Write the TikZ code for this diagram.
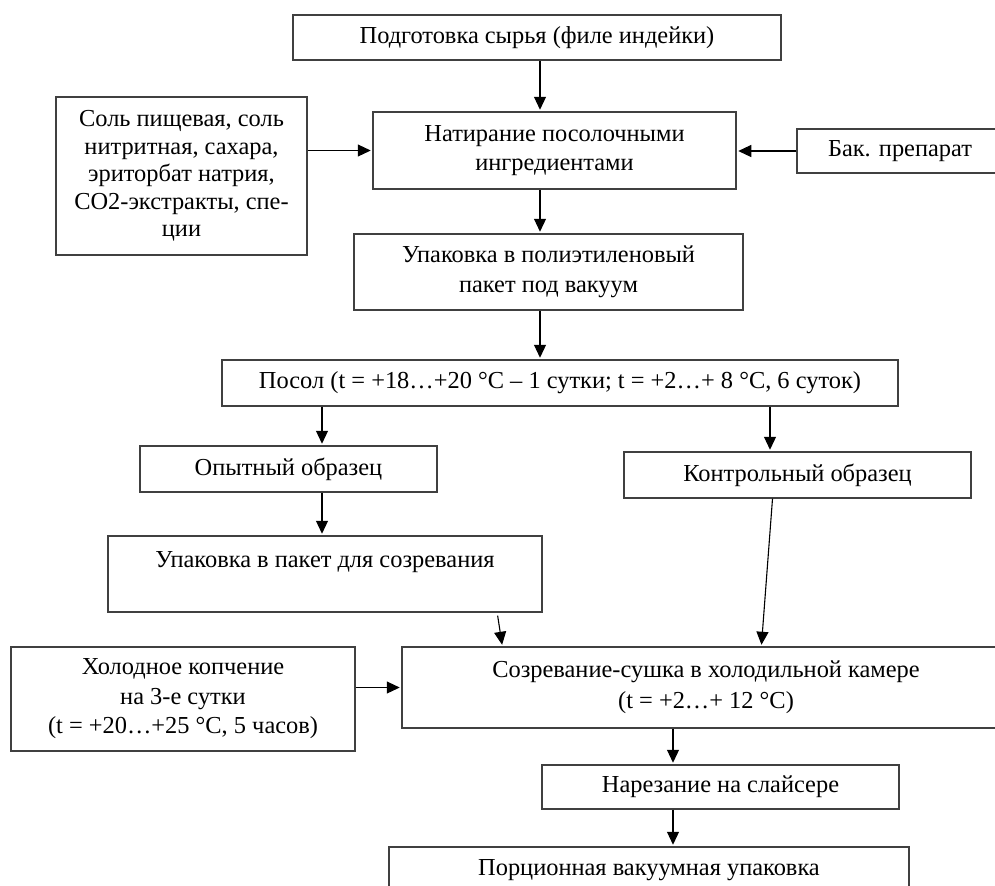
\documentclass[tikz,border=0pt]{standalone}
\usepackage{fontspec}
\setmainfont{Liberation Serif}
\usetikzlibrary{calc,arrows.meta}

\tikzset{
    box/.style={draw=black!75, line width=0.65pt, align=center, inner sep=2pt,
        font=\fontsize{12.2}{14.75}\selectfont},
    arr/.style={draw=black, line width=0.55pt, shorten >=0.8pt,
        -{Triangle[length=6.5pt,width=6pt]}}
}

\begin{document}
\begin{tikzpicture}[x=0.5pt, y=-0.5pt]
    \path[use as bounding box, clip] (0,0) rectangle (995,885); % page frame

    % upper column
    \node[box, minimum width=244pt, minimum height=22.5pt] (prep) at (537,37.5) {Подготовка сырья (филе индейки)};
    \node[box, minimum width=125.5pt, minimum height=79pt, font=\fontsize{12.2}{13.8}\selectfont] (salt) at (181.5,176)
        {Соль пищевая, соль\\нитритная, сахара,\\эриторбат натрия,\\СО2-экстракты, спе-\\ции};
    \node[box, minimum width=181.5pt, minimum height=38.5pt] (rub) at (554.5,150.5) {Натирание посолочными\\ингредиентами};
    \node[box, minimum width=103pt, minimum height=22pt] (bact) at (900,151) {Бак. препарат};
    \node[box, minimum width=194.5pt, minimum height=38pt] (pack) at (548.5,272) {Упаковка в полиэтиленовый\\пакет под вакуум};
    \node[box, minimum width=338pt, minimum height=23pt] (salting) at (560,383)
        {Посол (t = +18…+20 °C – 1 сутки; t = +2…+ 8 °C, 6 суток)};

    % two samples
    \node[box, minimum width=148.5pt, minimum height=23pt] (test) at (288.5,469) {Опытный образец};
    \node[box, minimum width=173.5pt, minimum height=23pt] (ctrl) at (797.5,475) {Контрольный образец};
    \node[box, minimum width=217pt, minimum height=38pt] (bag) at (325,574) {Упаковка в пакет для созревания\\\mbox{}};

    % lower column
    \node[box, minimum width=172pt, minimum height=52pt] (smoke) at (183,699)
        {Холодное копчение\\на 3-е сутки\\(t = +20…+25 °C, 5 часов)};
    \node[box, minimum width=304pt, minimum height=40.5pt, font=\fontsize{12.2}{15.5}\selectfont] (ripen) at (706,687.5)
        {Созревание-сушка в холодильной камере\\(t = +2…+ 12 °C)};
    \node[box, minimum width=178.5pt, minimum height=22pt] (slice) at (720.5,787) {Нарезание на слайсере};
    \node[box, minimum width=260pt, minimum height=23pt] (portion) at (649,870) {Порционная вакуумная упаковка};

    \coordinate (colA) at (540,0);
    \coordinate (colB) at (322,0);
    \coordinate (colC) at (770,0);
    \coordinate (colD) at (673,0);

    \draw[arr] (prep.south -| colA) -- (rub.north -| colA);
    \draw[arr] (salt.east |- rub.west) -- (rub.west);
    \draw[arr] (bact.west) -- (rub.east |- bact.west);
    \draw[arr] (rub.south -| colA) -- (pack.north -| colA);
    \draw[arr] (pack.south -| colA) -- (salting.north -| colA);
    \draw[arr] (salting.south -| colB) -- (test.north -| colB);
    \draw[arr] (salting.south -| colC) -- (ctrl.north -| colC);
    \draw[arr] (test.south -| colB) -- (bag.north -| colB);
    \draw[arr] ($(bag.south east)+(-45,3)$) -- ($(ripen.north west)+(101,0)$);
    \draw[arr] ($(ctrl.south)+(-25,0)$) -- ($(ripen.north west)+(360,0)$);
    \draw[arr] (smoke.east |- ripen.west) -- (ripen.west);
    \draw[arr] (ripen.south -| colD) -- (slice.north -| colD);
    \draw[arr] (slice.south -| colD) -- (portion.north -| colD);
\end{tikzpicture}
\end{document}
